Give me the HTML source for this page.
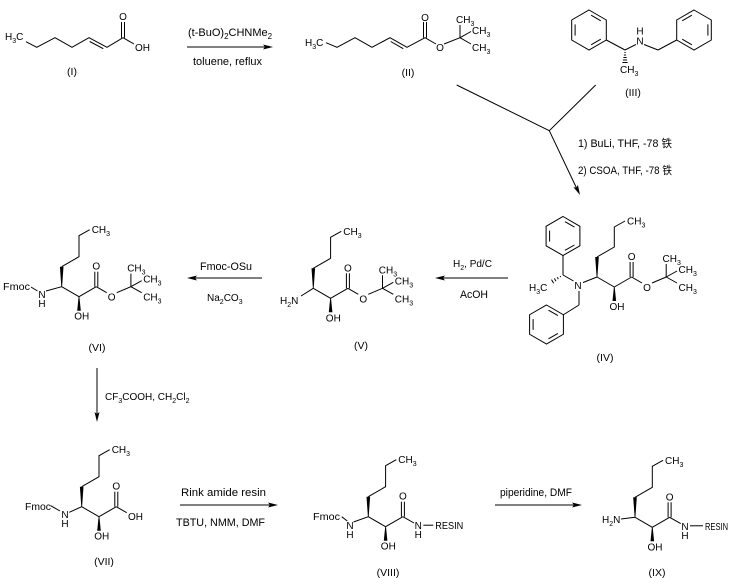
<!DOCTYPE html>
<html><head><meta charset="utf-8"><style>
html,body{margin:0;padding:0;background:#fff;}
svg{display:block;}
text{font-family:"Liberation Sans",Arial,"Noto Sans CJK SC",sans-serif;fill:#000;}
.a{font-size:10px;}
.r{font-size:11px;}
.l{font-size:10.5px;text-anchor:middle;}
.m{text-anchor:middle;}
</style></head><body>
<svg width="737" height="578" viewBox="0 0 737 578" xmlns="http://www.w3.org/2000/svg">
<rect width="737" height="578" fill="#fff"/>
<g stroke="#000" stroke-width="1" fill="none">
<!-- I -->
<polyline points="26,41.7 36.7,47.3 55,37.7 72,47.3 89,37.7 107,47.3 123,37.7 134,44"/>
<line x1="89.7" y1="41.5" x2="103.3" y2="48.7"/>
<line x1="121.5" y1="37.7" x2="121.5" y2="22"/>
<line x1="124.5" y1="37.7" x2="124.5" y2="22"/>
<!-- arrow 1 -->
<line x1="187" y1="47" x2="266" y2="47"/>
<!-- II -->
<polyline points="326,42.7 337,47.3 355,37.7 372,47.3 390,37.7 407,47.3 425,37.7 436,44"/>
<line x1="390.7" y1="41.5" x2="403.3" y2="48.7"/>
<line x1="423.5" y1="37.7" x2="423.5" y2="22"/>
<line x1="426.5" y1="37.7" x2="426.5" y2="22"/>
<line x1="444" y1="44" x2="460" y2="37.7"/>
<line x1="460" y1="37.7" x2="460" y2="25"/>
<line x1="460" y1="37.7" x2="471" y2="31.5"/>
<line x1="460" y1="37.7" x2="471" y2="44"/>
<!-- III -->
<polygon points="589,10 606.3,20 606.3,40 589,50 571.7,40 571.7,20"/>
<line x1="591.1" y1="15.2" x2="600.8" y2="20.8"/>
<line x1="600.8" y1="39.2" x2="591.1" y2="44.8"/>
<line x1="575.1" y1="35.6" x2="575.1" y2="24.4"/>
<line x1="606.3" y1="40" x2="625" y2="50"/>
<line x1="625" y1="50" x2="636" y2="44.5"/>
<line x1="644" y1="44.5" x2="658" y2="50"/>
<line x1="658" y1="50" x2="676.7" y2="40"/>
<polygon points="694,10 711.3,20 711.3,40 694,50 676.7,40 676.7,20"/>
<line x1="682.2" y1="20.8" x2="691.9" y2="15.2"/>
<line x1="707.9" y1="24.4" x2="707.9" y2="35.6"/>
<line x1="691.9" y1="44.8" x2="682.2" y2="39.2"/>
<line x1="624.4" y1="52.5" x2="625.6" y2="52.5"/>
<line x1="623.9" y1="55" x2="626.1" y2="55"/>
<line x1="623.4" y1="57.5" x2="626.6" y2="57.5"/>
<line x1="622.9" y1="60" x2="627.1" y2="60"/>
<line x1="622.4" y1="62.5" x2="627.6" y2="62.5"/>
<!-- convergent arrow -->
<line x1="456.7" y1="85" x2="549.3" y2="130.7"/>
<line x1="595.7" y1="85" x2="549.3" y2="130.7"/>
<line x1="549.3" y1="130.7" x2="577" y2="189"/>
<!-- IV -->
<polygon points="563,216.5 579.9,226.3 579.9,245.8 563,255.5 546.1,245.8 546.1,226.3"/>
<line x1="565" y1="221.7" x2="574.4" y2="227.1"/>
<line x1="574.4" y1="245" x2="565" y2="250.3"/>
<line x1="549.6" y1="241.5" x2="549.6" y2="230.6"/>
<line x1="563" y1="255.5" x2="563" y2="275"/>
<line x1="563" y1="275" x2="573.5" y2="281"/>
<line x1="560.1" y1="276.1" x2="560.7" y2="277.1"/>
<line x1="557.2" y1="277.3" x2="558.4" y2="279.1"/>
<line x1="554.4" y1="278.4" x2="556.0" y2="281.2"/>
<line x1="551.5" y1="279.6" x2="553.7" y2="283.2"/>
<line x1="579" y1="291" x2="579" y2="305"/>
<line x1="579" y1="305" x2="563.4" y2="314.75"/>
<polygon points="546.5,305 563.4,314.75 563.4,334.25 546.5,344 529.6,334.25 529.6,314.75"/>
<line x1="548.5" y1="310.2" x2="557.9" y2="315.6"/>
<line x1="557.9" y1="333.4" x2="548.5" y2="338.8"/>
<line x1="533.1" y1="329.9" x2="533.1" y2="319.1"/>
<line x1="583" y1="282.5" x2="597" y2="277"/>
<polyline points="597,257 614.3,247 614.3,227 625,221"/>
<line x1="597" y1="277" x2="614.3" y2="287"/>
<line x1="614.3" y1="287" x2="631.6" y2="277"/>
<line x1="630.1" y1="277" x2="630.1" y2="262"/>
<line x1="633.1" y1="277" x2="633.1" y2="262"/>
<line x1="631.6" y1="277" x2="642" y2="283"/>
<line x1="652" y1="283" x2="666.2" y2="277"/>
<line x1="666.2" y1="277" x2="666.2" y2="264"/>
<line x1="666.2" y1="277" x2="677" y2="271"/>
<line x1="666.2" y1="277" x2="677" y2="283"/>
<!-- H2 arrow -->
<line x1="442" y1="278" x2="508" y2="278"/>
<!-- V -->
<line x1="301" y1="296" x2="313.3" y2="288.3"/>
<polyline points="313.3,268.3 330.6,258.3 330.6,237.3 341.3,231.3"/>
<line x1="313.3" y1="288.3" x2="330.6" y2="298.3"/>
<line x1="330.6" y1="298.3" x2="347.9" y2="288.3"/>
<line x1="346.4" y1="288.3" x2="346.4" y2="273.3"/>
<line x1="349.4" y1="288.3" x2="349.4" y2="273.3"/>
<line x1="347.9" y1="288.3" x2="358.3" y2="294.3"/>
<line x1="368.3" y1="294.3" x2="382.5" y2="288.3"/>
<line x1="382.5" y1="288.3" x2="382.5" y2="275.3"/>
<line x1="382.5" y1="288.3" x2="393.3" y2="282.3"/>
<line x1="382.5" y1="288.3" x2="393.3" y2="294.3"/>
<!-- Fmoc-OSu arrow -->
<line x1="194" y1="278" x2="262" y2="278"/>
<!-- VI -->
<line x1="31" y1="287" x2="37.5" y2="291"/>
<line x1="46" y1="291" x2="61.7" y2="286.7"/>
<polyline points="61.7,266.7 79,256.7 79,235.7 89.7,229.7"/>
<line x1="61.7" y1="286.7" x2="79" y2="296.7"/>
<line x1="79" y1="296.7" x2="96.3" y2="286.7"/>
<line x1="94.8" y1="286.7" x2="94.8" y2="271.7"/>
<line x1="97.8" y1="286.7" x2="97.8" y2="271.7"/>
<line x1="96.3" y1="286.7" x2="106.7" y2="292.7"/>
<line x1="116.7" y1="292.7" x2="130.9" y2="286.7"/>
<line x1="130.9" y1="286.7" x2="130.9" y2="273.7"/>
<line x1="130.9" y1="286.7" x2="141.7" y2="280.7"/>
<line x1="130.9" y1="286.7" x2="141.7" y2="292.7"/>
<!-- vertical arrow -->
<line x1="97" y1="368" x2="97" y2="415"/>
<!-- VII -->
<line x1="50.7" y1="505.7" x2="60" y2="511"/>
<line x1="69.3" y1="512.3" x2="81.7" y2="506.7"/>
<polyline points="81.7,486.7 99,476.7 99,455.7 109.7,449.7"/>
<line x1="81.7" y1="506.7" x2="99" y2="516.7"/>
<line x1="99" y1="516.7" x2="116.3" y2="506.7"/>
<line x1="114.8" y1="506.7" x2="114.8" y2="491.7"/>
<line x1="117.8" y1="506.7" x2="117.8" y2="491.7"/>
<line x1="116.3" y1="506.7" x2="126.7" y2="512.7"/>
<!-- Rink arrow -->
<line x1="180" y1="505" x2="271" y2="505"/>
<!-- VIII -->
<line x1="341.7" y1="516.7" x2="347.3" y2="521"/>
<line x1="353.5" y1="522" x2="368.3" y2="516.7"/>
<polyline points="368.3,496.7 385.6,486.7 385.6,465.7 396.3,459.7"/>
<line x1="368.3" y1="516.7" x2="385.6" y2="526.7"/>
<line x1="385.6" y1="526.7" x2="402.9" y2="516.7"/>
<line x1="401.4" y1="516.7" x2="401.4" y2="501.7"/>
<line x1="404.4" y1="516.7" x2="404.4" y2="501.7"/>
<line x1="402.9" y1="516.7" x2="414" y2="523"/>
<line x1="423.3" y1="525.2" x2="433.3" y2="525.2"/>
<!-- piperidine arrow -->
<line x1="495" y1="505" x2="575" y2="505"/>
<!-- IX -->
<line x1="621" y1="519" x2="635" y2="517.3"/>
<polyline points="635,497.3 652.3,487.3 652.3,466.3 663,460.3"/>
<line x1="635" y1="517.3" x2="652.3" y2="527.3"/>
<line x1="652.3" y1="527.3" x2="669.6" y2="517.3"/>
<line x1="668.1" y1="517.3" x2="668.1" y2="502.3"/>
<line x1="671.1" y1="517.3" x2="671.1" y2="502.3"/>
<line x1="669.6" y1="517.3" x2="680.7" y2="523.6"/>
<line x1="690" y1="525.8" x2="703" y2="525.8"/>
</g>

<g fill="#000" stroke="none">
<!-- arrowheads -->
<polygon points="273,47 263,44.5 265,47 263,49.5"/>
<polygon points="580,195 577.9,184.9 576.5,187.8 573.4,187.1"/>
<polygon points="435,278 445,275.5 443,278 445,280.5"/>
<polygon points="187,278 197,275.5 195,278 197,280.5"/>
<polygon points="97,422 94.5,412 97,414 99.5,412"/>
<polygon points="278,505 268,502.5 270,505 268,507.5"/>
<polygon points="582,505 572,502.5 574,505 572,507.5"/>
<!-- wedges -->
<polygon points="596.6,277 597.4,277 598.8,257 595.2,257"/>
<polygon points="613.9,287 614.7,287 616.1,301 612.5,301"/>
<polygon points="312.9,288.3 313.7,288.3 315.1,268.3 311.5,268.3"/>
<polygon points="330.2,298.3 331,298.3 332.4,312.3 328.8,312.3"/>
<polygon points="61.3,286.7 62.1,286.7 63.5,266.7 59.9,266.7"/>
<polygon points="78.6,296.7 79.4,296.7 80.8,310.7 77.2,310.7"/>
<polygon points="81.3,506.7 82.1,506.7 83.5,486.7 79.9,486.7"/>
<polygon points="98.6,516.7 99.4,516.7 100.8,530.7 97.2,530.7"/>
<polygon points="367.9,516.7 368.7,516.7 370.1,496.7 366.5,496.7"/>
<polygon points="385.2,526.7 386,526.7 387.4,540.7 383.8,540.7"/>
<polygon points="634.6,517.3 635.4,517.3 636.8,497.3 633.2,497.3"/>
<polygon points="651.9,527.3 652.7,527.3 654.1,541.3 650.5,541.3"/>
</g>

<!-- I texts -->
<text class="a" x="5" y="40">H<tspan dy="3" font-size="7">3</tspan><tspan dy="-3">C</tspan></text>
<text class="a m" x="123" y="20">O</text>
<text class="a" x="135" y="51">OH</text>
<text class="l" x="72" y="75">(I)</text>

<!-- reagents 1 -->
<text class="r" x="188" y="36">(t-BuO)<tspan dy="3" font-size="8">2</tspan><tspan dy="-3">CHNMe</tspan><tspan dy="3" font-size="8">2</tspan></text>
<text class="r" x="193" y="65" textLength="69" lengthAdjust="spacingAndGlyphs">toluene, reflux</text>

<!-- II texts -->
<text class="a" x="305" y="46">H<tspan dy="3" font-size="7">3</tspan><tspan dy="-3">C</tspan></text>
<text class="a m" x="425" y="21">O</text>
<text class="a m" x="440" y="51">O</text>
<text class="a" x="456" y="23">CH<tspan dy="3" font-size="7">3</tspan></text>
<text class="a" x="472" y="34">CH<tspan dy="3" font-size="7">3</tspan></text>
<text class="a" x="472" y="51">CH<tspan dy="3" font-size="7">3</tspan></text>
<text class="l" x="408" y="76">(II)</text>

<!-- III texts -->
<text class="a m" x="640" y="34.5">H</text>
<text class="a m" x="640" y="44.5">N</text>
<text class="a" x="620" y="73">CH<tspan dy="3" font-size="7">3</tspan></text>
<text class="l" x="633" y="96">(III)</text>

<!-- reagents convergent -->
<text class="r" x="578" y="147" font-size="10.5" textLength="94" lengthAdjust="spacingAndGlyphs">1) BuLi, THF, -78 铁</text>
<text class="r" x="578" y="174" font-size="10.5" textLength="94" lengthAdjust="spacingAndGlyphs">2) CSOA, THF, -78 铁</text>

<!-- IV texts -->
<text class="a" x="529" y="291">H<tspan dy="3" font-size="7">3</tspan><tspan dy="-3">C</tspan></text>
<text class="a m" x="578" y="289">N</text>
<text class="a" x="627" y="224.5">CH<tspan dy="3" font-size="7">3</tspan></text>
<text class="a" x="609.5" y="310">OH</text>
<text class="a m" x="631.6" y="260">O</text>
<text class="a m" x="647" y="291">O</text>
<text class="a" x="662.5" y="262">CH<tspan dy="3" font-size="7">3</tspan></text>
<text class="a" x="678.5" y="273">CH<tspan dy="3" font-size="7">3</tspan></text>
<text class="a" x="678.5" y="291">CH<tspan dy="3" font-size="7">3</tspan></text>
<text class="l" x="605" y="361">(IV)</text>

<!-- H2 reagents -->
<text x="453" y="267" font-size="10">H<tspan dy="3" font-size="7">2</tspan><tspan dy="-3">, Pd/C</tspan></text>
<text class="r" x="460" y="298" textLength="28" lengthAdjust="spacingAndGlyphs">AcOH</text>

<!-- V texts -->
<text class="a" x="280" y="304">H<tspan dy="3" font-size="7">2</tspan><tspan dy="-3">N</tspan></text>
<text class="a" x="343.3" y="234.8">CH<tspan dy="3" font-size="7">3</tspan></text>
<text class="a" x="325.8" y="321.3">OH</text>
<text class="a m" x="347.9" y="271.3">O</text>
<text class="a m" x="363.3" y="302.3">O</text>
<text class="a" x="378.8" y="273.3">CH<tspan dy="3" font-size="7">3</tspan></text>
<text class="a" x="394.8" y="284.3">CH<tspan dy="3" font-size="7">3</tspan></text>
<text class="a" x="394.8" y="302.3">CH<tspan dy="3" font-size="7">3</tspan></text>
<text class="l" x="361" y="349">(V)</text>

<!-- Fmoc-OSu reagents -->
<text class="r" x="200" y="270" textLength="52" lengthAdjust="spacingAndGlyphs">Fmoc-OSu</text>
<text x="207" y="301" font-size="10">Na<tspan dy="3" font-size="7">2</tspan><tspan dy="-3">CO</tspan><tspan dy="3" font-size="7">3</tspan></text>

<!-- VI texts -->
<text class="a" x="3" y="290" textLength="27" lengthAdjust="spacingAndGlyphs">Fmoc</text>
<text class="a m" x="42" y="298">N</text>
<text class="a m" x="42" y="307">H</text>
<text class="a" x="91.7" y="233.2">CH<tspan dy="3" font-size="7">3</tspan></text>
<text class="a" x="74.2" y="319.7">OH</text>
<text class="a m" x="96.3" y="269.7">O</text>
<text class="a m" x="111.7" y="300.7">O</text>
<text class="a" x="127.2" y="271.7">CH<tspan dy="3" font-size="7">3</tspan></text>
<text class="a" x="143.2" y="282.7">CH<tspan dy="3" font-size="7">3</tspan></text>
<text class="a" x="143.2" y="300.7">CH<tspan dy="3" font-size="7">3</tspan></text>
<text class="l" x="97" y="351">(VI)</text>

<!-- TFA reagent -->
<text x="105" y="400" font-size="10">CF<tspan dy="3" font-size="7">3</tspan><tspan dy="-3">COOH, CH</tspan><tspan dy="3" font-size="7">2</tspan><tspan dy="-3">Cl</tspan><tspan dy="3" font-size="7">2</tspan></text>

<!-- VII texts -->
<text class="a" x="25" y="510" textLength="26" lengthAdjust="spacingAndGlyphs">Fmoc</text>
<text class="a m" x="65" y="518">N</text>
<text class="a m" x="65" y="527">H</text>
<text class="a" x="111.7" y="453.2">CH<tspan dy="3" font-size="7">3</tspan></text>
<text class="a" x="94.2" y="539.7">OH</text>
<text class="a m" x="116.3" y="489.7">O</text>
<text class="a" x="128" y="520">OH</text>
<text class="l" x="104" y="565">(VII)</text>

<!-- Rink reagents -->
<text class="r" x="181" y="496" textLength="85" lengthAdjust="spacingAndGlyphs">Rink amide resin</text>
<text class="r" x="176" y="526" textLength="89" lengthAdjust="spacingAndGlyphs">TBTU, NMM, DMF</text>

<!-- VIII texts -->
<text class="a" x="313" y="520" textLength="27" lengthAdjust="spacingAndGlyphs">Fmoc</text>
<text class="a m" x="350" y="529">N</text>
<text class="a m" x="350" y="538">H</text>
<text class="a" x="398.3" y="463.2">CH<tspan dy="3" font-size="7">3</tspan></text>
<text class="a" x="380.8" y="549.7">OH</text>
<text class="a m" x="402.9" y="499.7">O</text>
<text class="a m" x="418.3" y="529.2">N</text>
<text class="a m" x="418.3" y="538.2">H</text>
<text class="a" x="435.3" y="529.2" textLength="28" lengthAdjust="spacingAndGlyphs">RESIN</text>
<text class="l" x="388" y="576">(VIII)</text>

<!-- piperidine reagent -->
<text class="r" x="500" y="496" textLength="72" lengthAdjust="spacingAndGlyphs">piperidine, DMF</text>

<!-- IX texts -->
<text class="a" x="602" y="523">H<tspan dy="3" font-size="7">2</tspan><tspan dy="-3">N</tspan></text>
<text class="a" x="665" y="463.8">CH<tspan dy="3" font-size="7">3</tspan></text>
<text class="a" x="647.5" y="550.3">OH</text>
<text class="a m" x="669.6" y="500.3">O</text>
<text class="a m" x="685" y="529.8">N</text>
<text class="a m" x="685" y="538.8">H</text>
<text class="a" x="705" y="529.8" textLength="23" lengthAdjust="spacingAndGlyphs">RESIN</text>
<text class="l" x="657" y="576">(IX)</text>
</svg>
</body></html>
